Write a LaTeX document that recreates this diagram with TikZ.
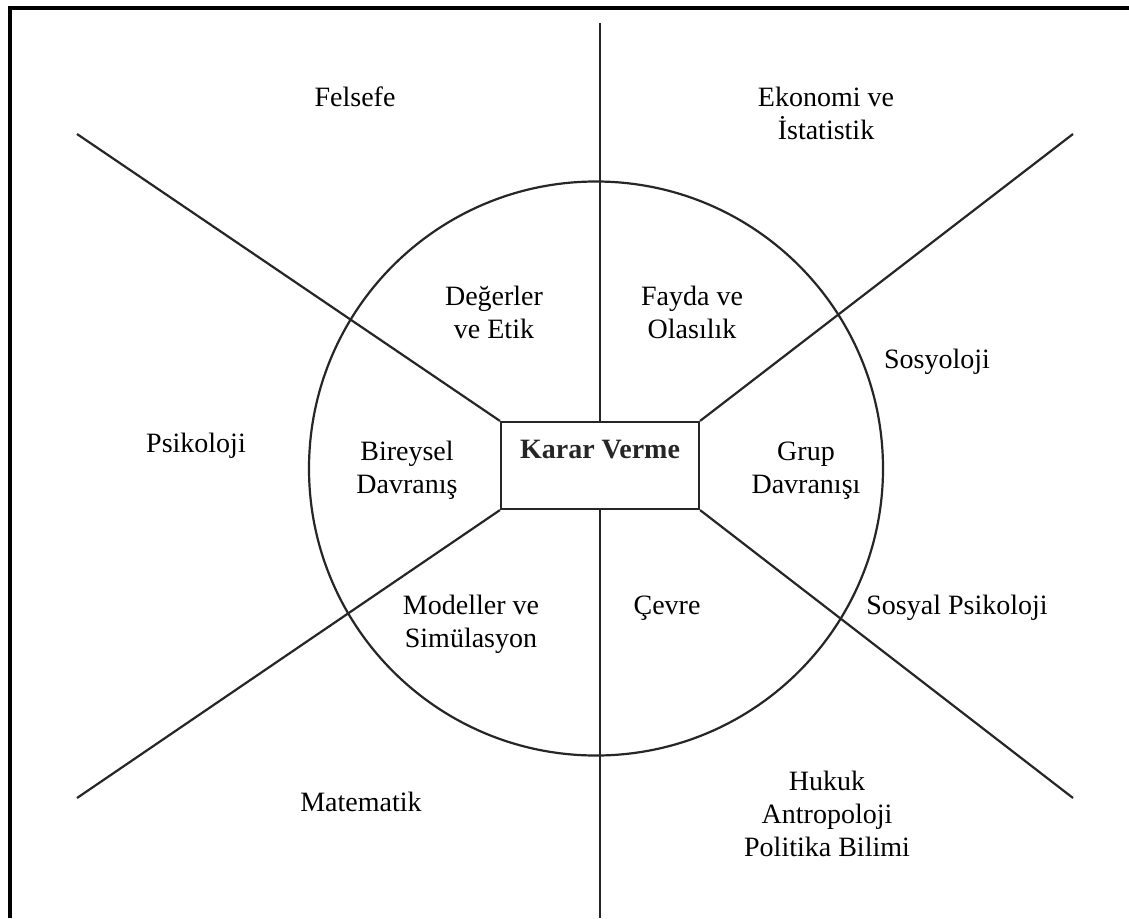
\documentclass[tikz,border=0pt]{standalone}
\usepackage{fontspec}
\setmainfont{Liberation Serif}
\newcommand\tstack[1]{\begin{tabular}[t]{@{}c@{}}#1\end{tabular}}
\begin{document}
\begin{tikzpicture}[x=1pt,y=-1pt,
  rule/.style={line width=2.2pt,black!85},
  frameline/.style={line width=4pt,black},
  lbl/.style={font=\fontsize{28}{33}\selectfont,inner sep=0pt,anchor=base},
  hub/.style={draw,line width=2.2pt,black!85,minimum width=198pt,inner sep=0pt,
    text height=36pt,text depth=51pt,anchor=base,
    font=\fontsize{28}{33}\selectfont\bfseries},
  ring/.style={draw,circle,line width=2.2pt,black!85,minimum size=574pt,inner sep=0pt}]
\useasboundingbox (0,0) rectangle (1129,918);
\fill[white] (0,0) rectangle (1129,918);

% partial frame
\draw[frameline] (8,8) -- (1129,8);
\draw[frameline] (9.5,6) -- (9.5,918);

% ring and central box
\node[ring] (ring) at (596,468.5) {};
\node[hub] (kv) at (600,458) {Karar Verme};

% free ends of the spokes
\coordinate (top) at (600,23);
\coordinate (bot) at (600,918);
\coordinate (tl) at (77,134);
\coordinate (tr) at (1073,134);
\coordinate (bl) at (77,798);
\coordinate (br) at (1073,798);

\draw[rule] (kv.north) -- (top);
\draw[rule] (kv.south) -- (bot);
\draw[rule] (kv.north west) -- (tl);
\draw[rule] (kv.north east) -- (tr);
\draw[rule] (kv.south west) -- (bl);
\draw[rule] (kv.south east) -- (br);

% outer disciplines
\node[lbl] (fel) at (355,106) {Felsefe};
\node[lbl] (eko) at (826,106) {\tstack{Ekonomi ve\\İstatistik}};
\node[lbl] (sos) at (937,368) {Sosyoloji};
\node[lbl] (psi) at (196,452) {Psikoloji};
\node[lbl] (spsi) at (957,614) {Sosyal Psikoloji};
\node[lbl] (mat) at (361,811) {Matematik};
\node[lbl] (huk) at (827,790) {\tstack{Hukuk\\Antropoloji\\Politika Bilimi}};

% inner sectors
\node[lbl] (deg) at (494,305) {\tstack{Değerler\\ve Etik}};
\node[lbl] (fay) at (692,305) {\tstack{Fayda ve\\Olasılık}};
\node[lbl] (bir) at (407,460) {\tstack{Bireysel\\Davranış}};
\node[lbl] (grp) at (806,460) {\tstack{Grup\\Davranışı}};
\node[lbl] (mod) at (471,614) {\tstack{Modeller ve\\Simülasyon}};
\node[lbl] (cev) at (667,614) {Çevre};
\end{tikzpicture}
\end{document}
